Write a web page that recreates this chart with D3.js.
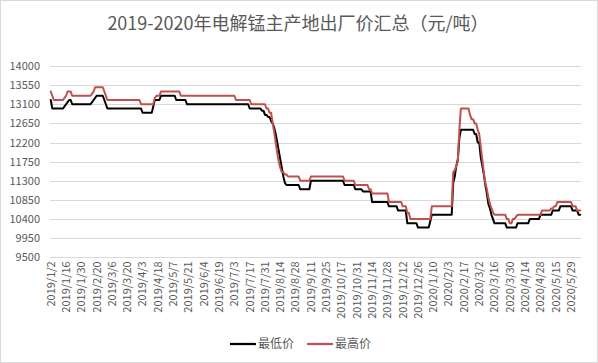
<!DOCTYPE html>
<html>
<head>
<meta charset="utf-8">
<script src="https://cdn.jsdelivr.net/npm/d3@7"></script>
<style>
  body { margin: 0; background: #fff; }
  text { font-family: "Noto Sans CJK SC", "Noto Sans", sans-serif; fill: #595959; }
</style>
</head>
<body>
<div id="chart"></div>
<script>
// x tick labels, one every 10 trading days
var tickLabels = ["2019/1/2", "2019/1/16", "2019/1/30", "2019/2/20", "2019/3/6", "2019/3/20",
  "2019/4/3", "2019/4/18", "2019/5/7", "2019/5/21", "2019/6/4", "2019/6/19", "2019/7/3",
  "2019/7/17", "2019/7/31", "2019/8/14", "2019/8/28", "2019/9/11", "2019/9/25", "2019/10/17",
  "2019/10/31", "2019/11/14", "2019/11/28", "2019/12/12", "2019/12/26", "2020/1/10", "2020/2/3",
  "2020/2/17", "2020/3/2", "2020/3/16", "2020/3/30", "2020/4/14", "2020/4/28", "2020/5/15", "2020/5/29"];

var yTicks = [9500, 9950, 10400, 10850, 11300, 11750, 12200, 12650, 13100, 13550, 14000];

// 最低价, one value per trading day (10 per row)
var minPrice = [
  13200,13000,13000,13000,13000,13000,13000,13000,13000,13050,
  13100,13150,13200,13200,13100,13100,13100,13100,13100,13100,
  13100,13100,13100,13100,13100,13100,13100,13150,13200,13250,
  13300,13300,13300,13300,13300,13200,13100,13000,13000,13000,
  13000,13000,13000,13000,13000,13000,13000,13000,13000,13000,
  13000,13000,13000,13000,13000,13000,13000,13000,13000,13000,
  12900,12900,12900,12900,12900,12900,12900,13050,13200,13200,
  13200,13200,13300,13300,13300,13300,13300,13300,13300,13300,
  13300,13300,13200,13200,13200,13200,13200,13200,13200,13100,
  13100,13100,13100,13100,13100,13100,13100,13100,13100,13100,
  13100,13100,13100,13100,13100,13100,13100,13100,13100,13100,
  13100,13100,13100,13100,13100,13100,13100,13100,13100,13100,
  13100,13100,13100,13100,13100,13100,13100,13100,13100,13100,
  13000,13000,13000,13000,13000,13000,13000,13000,12950,12950,
  12850,12850,12800,12800,12700,12650,12550,12400,12200,12000,
  11800,11600,11400,11250,11200,11200,11200,11200,11200,11200,
  11200,11200,11200,11100,11100,11100,11100,11100,11100,11100,
  11300,11300,11300,11300,11300,11300,11300,11300,11300,11300,
  11300,11300,11300,11300,11300,11300,11300,11300,11300,11300,
  11300,11300,11200,11200,11200,11200,11200,11200,11200,11100,
  11100,11100,11100,11100,11050,11050,11050,11050,11050,11050,
  10800,10800,10800,10800,10800,10800,10800,10800,10800,10800,
  10800,10700,10700,10700,10700,10700,10700,10600,10600,10600,
  10600,10600,10600,10300,10300,10300,10300,10300,10300,10300,
  10200,10200,10200,10200,10200,10200,10200,10200,10350,10500,
  10500,10500,10500,10500,10500,10500,10500,10500,10500,10500,
  10500,10500,10500,11250,11400,11650,11800,12300,12500,12500,
  12500,12500,12500,12500,12500,12500,12500,12400,12400,12200,
  12200,11850,11650,11450,11200,11000,10750,10650,10500,10400,
  10300,10300,10300,10300,10300,10300,10300,10300,10200,10200,
  10200,10200,10200,10200,10200,10300,10300,10300,10300,10300,
  10300,10300,10300,10400,10400,10400,10400,10400,10400,10400,
  10500,10500,10500,10500,10500,10500,10500,10500,10600,10600,
  10600,10600,10600,10700,10700,10700,10700,10700,10700,10700,
  10700,10600,10600,10600,10600,10500,10500
];

// 最高价
var maxPrice = [
  13400,13300,13200,13200,13200,13200,13200,13200,13200,13250,
  13300,13400,13400,13400,13300,13300,13300,13300,13300,13300,
  13300,13300,13300,13300,13300,13300,13300,13350,13400,13500,
  13500,13500,13500,13500,13500,13400,13300,13200,13200,13200,
  13200,13200,13200,13200,13200,13200,13200,13200,13200,13200,
  13200,13200,13200,13200,13200,13200,13200,13200,13200,13100,
  13100,13100,13100,13100,13100,13100,13100,13100,13250,13300,
  13300,13300,13400,13400,13400,13400,13400,13400,13400,13400,
  13400,13400,13400,13400,13400,13300,13300,13300,13300,13300,
  13300,13300,13300,13300,13300,13300,13300,13300,13300,13300,
  13300,13300,13300,13300,13300,13300,13300,13300,13300,13300,
  13300,13300,13300,13300,13300,13300,13300,13300,13300,13300,
  13300,13200,13200,13200,13200,13200,13200,13200,13200,13200,
  13200,13100,13100,13100,13100,13100,13100,13100,13100,13100,
  13100,13000,13000,12900,12900,12650,12450,12200,11950,11750,
  11600,11500,11500,11450,11450,11400,11400,11400,11400,11400,
  11400,11400,11400,11300,11300,11300,11300,11300,11300,11300,
  11400,11400,11400,11400,11400,11400,11400,11400,11400,11400,
  11400,11400,11400,11400,11400,11400,11400,11400,11400,11400,
  11400,11400,11300,11300,11300,11300,11300,11300,11300,11200,
  11200,11200,11200,11200,11200,11200,11200,11200,11100,11100,
  11000,11000,11000,11000,11000,11000,11000,11000,11000,11000,
  11000,10800,10800,10800,10800,10800,10800,10800,10800,10800,
  10700,10700,10700,10550,10550,10400,10400,10400,10400,10400,
  10400,10400,10400,10400,10400,10400,10400,10400,10400,10700,
  10700,10700,10700,10700,10700,10700,10700,10700,10700,10700,
  10700,10700,10700,11500,11550,11650,11750,12500,13000,13000,
  13000,13000,13000,13000,12850,12750,12750,12650,12650,12500,
  12400,12100,11800,11500,11250,11100,10900,10750,10650,10550,
  10500,10500,10500,10500,10500,10500,10500,10500,10400,10400,
  10300,10300,10400,10400,10450,10500,10500,10500,10500,10500,
  10500,10500,10500,10500,10500,10500,10500,10500,10500,10500,
  10500,10600,10600,10600,10600,10600,10600,10650,10650,10700,
  10700,10800,10800,10800,10800,10800,10800,10800,10800,10800,
  10800,10700,10700,10700,10600,10600,10600
];

var seriesNames = ["最低价", "最高价"];
var seriesColors = ["#000000", "#C0504D"];

var width = 598, height = 363;
var plot = { left: 50, right: 581, top: 66, bottom: 257.3 };

var svg = d3.select("#chart")
  .append("svg")
  .attr("width", width)
  .attr("height", height);

// chart frame
svg.append("rect")
  .attr("x", 0.5).attr("y", 0.5)
  .attr("width", width - 1).attr("height", height - 1)
  .attr("fill", "#fff")
  .attr("stroke", "#d9d9d9");

// title
svg.append("text")
  .attr("x", 298)
  .attr("y", 30)
  .attr("text-anchor", "middle")
  .style("font-size", "18px")
  .text("2019-2020年电解锰主产地出厂价汇总（元/吨）");

var x = d3.scaleBand()
  .domain(d3.range(minPrice.length))
  .range([plot.left, plot.right]);

var y = d3.scaleLinear()
  .domain([9500, 14000])
  .range([plot.bottom, plot.top]);

// horizontal grid lines
svg.append("g")
  .selectAll("line")
  .data(yTicks)
  .enter()
  .append("line")
  .attr("x1", plot.left)
  .attr("x2", plot.right)
  .attr("y1", function (d) { return Math.round(y(d)) + 0.5; })
  .attr("y2", function (d) { return Math.round(y(d)) + 0.5; })
  .attr("stroke", "#d9d9d9")
  .attr("stroke-width", 1);

// Y axis labels
var yAxis = svg.append("g")
  .attr("transform", "translate(" + plot.left + ",0)")
  .call(d3.axisLeft(y).tickValues(yTicks).tickFormat(d3.format("d")).tickSize(0).tickPadding(10));
yAxis.select(".domain").remove();
yAxis.selectAll("text")
  .style("font-size", "11px")
  .style("font-family", "\"Noto Sans CJK SC\", sans-serif")
  .attr("fill", "#595959");

// X axis labels (rotated)
var xAxis = svg.append("g")
  .attr("transform", "translate(0," + plot.bottom + ")")
  .call(d3.axisBottom(x)
    .tickValues(d3.range(0, minPrice.length, 10))
    .tickFormat(function (i) { return tickLabels[i / 10]; })
    .tickSize(0));
xAxis.select(".domain").remove();
xAxis.selectAll("text")
  .attr("transform", "rotate(-90)")
  .attr("x", -4)
  .attr("y", 0)
  .attr("dy", "0.35em")
  .style("text-anchor", "end")
  .style("font-size", "11px")
  .style("font-family", "\"Noto Sans CJK SC\", sans-serif")
  .attr("fill", "#595959");

// the two price lines
var line = d3.line()
  .x(function (d, i) { return x(i) + x.bandwidth() / 2; })
  .y(function (d) { return y(d); });

[minPrice, maxPrice].forEach(function (s, k) {
  svg.append("path")
    .datum(s)
    .attr("d", line)
    .attr("fill", "none")
    .attr("stroke", seriesColors[k])
    .attr("stroke-width", 2)
    .attr("stroke-linejoin", "round")
    .attr("stroke-linecap", "round");
});

// legend
var legend = svg.append("g").attr("transform", "translate(230,344)");
seriesNames.forEach(function (name, k) {
  var g = legend.append("g").attr("transform", "translate(" + (k * 77) + ",0)");
  g.append("line")
    .attr("x1", 0).attr("x2", 26)
    .attr("y1", 0).attr("y2", 0)
    .attr("stroke", seriesColors[k])
    .attr("stroke-width", 2.25);
  g.append("text")
    .attr("x", 28)
    .attr("y", 0)
    .attr("dy", "0.35em")
    .style("font-size", "12px")
    .text(name);
});
</script>
</body>
</html>
